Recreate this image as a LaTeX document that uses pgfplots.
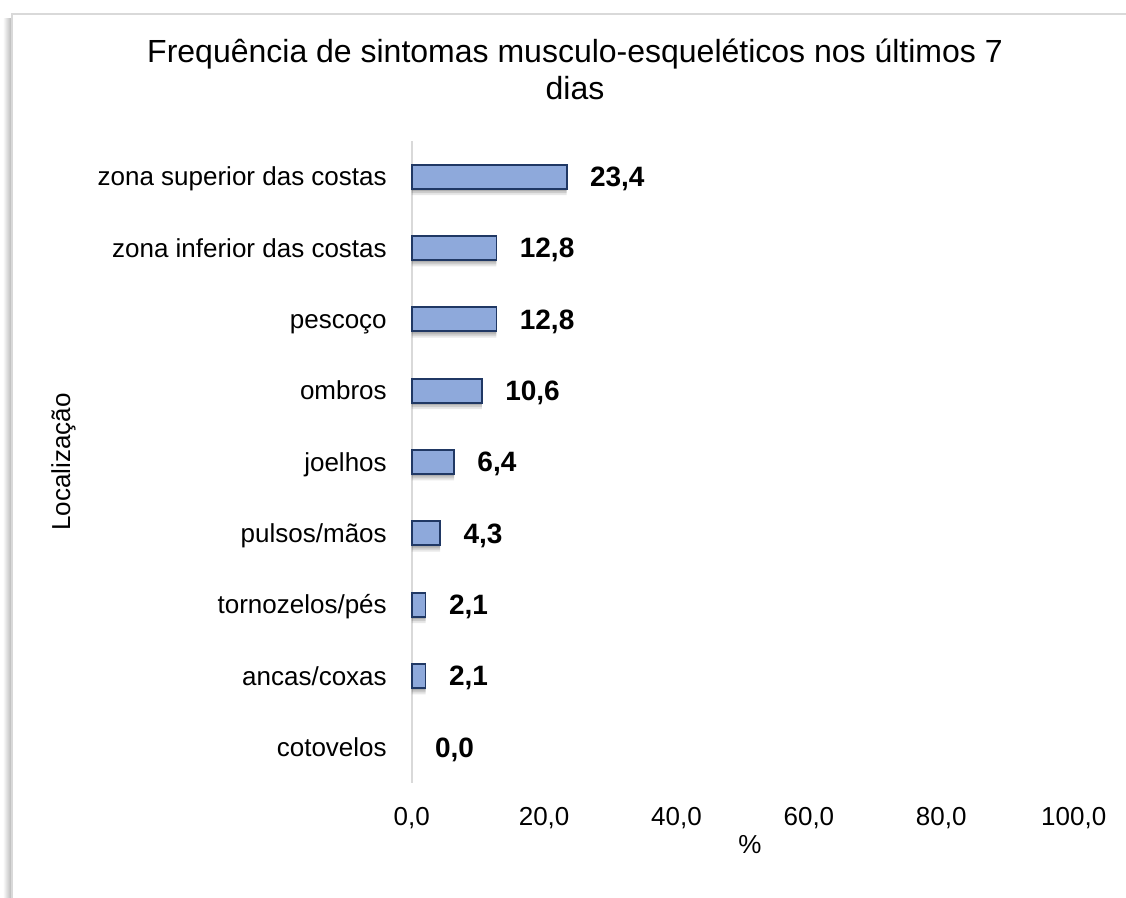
\documentclass[border=0pt]{standalone}
\usepackage{fontspec}
\setmainfont{Liberation Sans}
\usepackage{pgfplots}
\usepackage{pgfplotstable}
\pgfplotsset{compat=1.18,
  /pgf/number format/assume math mode=true,
  /pgf/number format/fixed,
  /pgf/number format/fixed zerofill,
  /pgf/number format/precision=1,
  /pgf/number format/use comma}
\definecolor{barfill}{RGB}{142,169,219}
\definecolor{baredge}{RGB}{32,56,100}
\definecolor{axisgray}{RGB}{217,217,217}
\newcommand\lblfont{\fontsize{13}{15.6}\selectfont}

% percentage of respondents with symptoms, by body location
\pgfplotstableread{
pos val
8 23.4
7 12.8
6 12.8
5 10.6
4 6.4
3 4.3
2 2.1
1 2.1
0 0.0
}\sintomas

\begin{document}
\begin{tikzpicture}
\useasboundingbox (0,0) rectangle (563pt,449pt);
% chart area border with its soft left shadow
\shade[left color=gray!4, right color=gray!60] (1.7pt,-20pt) rectangle (6pt,439.5pt);
\draw[axisgray, line width=0.7pt] (6pt,-20pt) rectangle (600pt,442pt);
% title
\node[anchor=base, font=\fontsize{16}{19}\selectfont] at (287.5pt,417.6pt)
  {Frequência de sintomas musculo-esqueléticos nos últimos 7};
\node[anchor=base, font=\fontsize{16}{19}\selectfont] at (287.5pt,399.3pt) {dias};
\begin{axis}[
  at={(205.85pt,57.5pt)}, anchor=south west,
  scale only axis, width=331pt, height=321pt,
  xmin=0, xmax=100, ymin=-0.5, ymax=8.5,
  clip=false,
  axis lines*=left,
  x axis line style={draw=none},
  y axis line style={draw=axisgray, line width=1pt},
  major tick length=0pt,
  xtick={0,20,...,100},
  scaled x ticks=false,
  ytick={0,...,8},
  yticklabels={cotovelos, ancas/coxas, tornozelos/pés, pulsos/mãos, joelhos, ombros, pescoço, zona inferior das costas, zona superior das costas},
  xticklabel style={font=\lblfont, anchor=north, inner sep=0pt, yshift=-12pt},
  yticklabel style={font=\lblfont, anchor=base east, inner sep=0pt, xshift=-12.3pt, yshift=-4.6pt},
  xlabel={\%},
  xlabel style={font=\lblfont, at={(axis description cs:0.511,-0.0966)}, anchor=center},
  ylabel={Localização},
  ylabel style={font=\lblfont, at={(axis description cs:-0.516,0.5)}, anchor=base},
]
% bar shadows
\addplot[xbar, bar width=12pt, bar shift=-3.2pt, draw=none, fill=black, fill opacity=0.09,
  restrict x to domain=0.05:200] table[x=val,y=pos]{\sintomas};
\addplot[xbar, bar width=12pt, bar shift=-2.2pt, draw=none, fill=black, fill opacity=0.12,
  restrict x to domain=0.05:200] table[x=val,y=pos]{\sintomas};
\addplot[xbar, bar width=12pt, bar shift=-1.2pt, draw=none, fill=black, fill opacity=0.14,
  restrict x to domain=0.05:200] table[x=val,y=pos]{\sintomas};
% bars
\addplot[xbar, bar width=12pt, bar shift=0pt, draw=baredge, line width=0.9pt, fill=barfill,
  restrict x to domain=0.05:200] table[x=val,y=pos]{\sintomas};
% value labels
\addplot[draw=none, mark=none, point meta=x, nodes near coords,
  every node near coord/.append style={anchor=base west, inner sep=0pt,
    xshift=11.5pt, yshift=-4.9pt, font=\bfseries\fontsize{14}{16.8}\selectfont}]
  table[x=val,y=pos]{\sintomas};
\end{axis}
\end{tikzpicture}
\end{document}
